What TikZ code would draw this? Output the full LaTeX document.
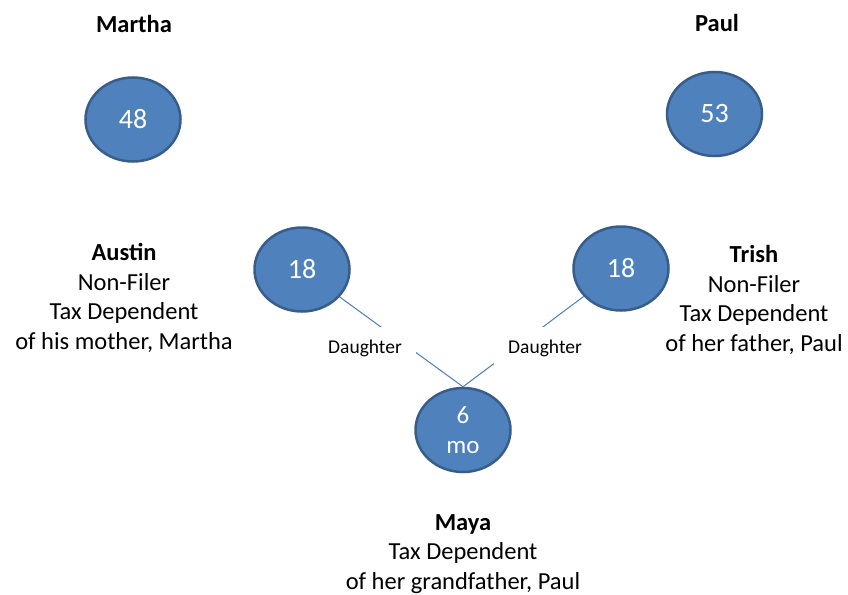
\documentclass[tikz,border=0pt]{standalone}
\usepackage{fontspec}
\setmainfont{Carlito}
\usetikzlibrary{shapes.geometric}
\definecolor{nodefill}{HTML}{4F81BD}
\definecolor{nodeline}{HTML}{385D8A}
\definecolor{linkcol}{HTML}{4A7EBB}
\begin{document}
\begin{tikzpicture}[x=1pt,y=-1pt,
  person/.style={ellipse, fill=nodefill, draw=nodeline, line width=2.5pt,
    minimum width=95pt, minimum height=84pt, inner sep=0pt, text=white,
    font=\fontsize{28}{30}\selectfont},
  pname/.style={font=\fontsize{24.5}{29.5}\selectfont\bfseries, inner sep=0pt, anchor=base},
  info/.style={font=\fontsize{24.5}{29.5}\selectfont, align=center, inner sep=0pt, anchor=base},
  link/.style={draw=linkcol, line width=1pt},
  rel/.style={fill=white, font=\fontsize{19.5}{22}\selectfont, inner xsep=14pt, inner ysep=12pt, anchor=base}]
\useasboundingbox (0,0) rectangle (848,594);

\node[person] (martha) at (133,119.5) {48};
\node[person] (paul) at (714.5,114) {53};
\node[person] (austin) at (302,269.5) {18};
\node[person] (trish) at (621,268.5) {18};
\node[person, font=\fontsize{25}{30}\selectfont, align=center] (maya) at (463,430) {6\\mo};

\node[pname] (marthaname) at (134,33) {Martha};
\node[pname] (paulname) at (717,32) {Paul};

\node[info] (austininfo) at (124,349) {{\bfseries Austin}\\Non-Filer\\Tax Dependent\\of his mother, Martha};
\node[info] (trishinfo) at (754,351) {{\bfseries Trish}\\Non-Filer\\Tax Dependent\\of her father, Paul};
\node[info] (mayainfo) at (463,589) {{\bfseries Maya}\\Tax Dependent\\of her grandfather, Paul};

\draw[link] (austin) -- (maya.north);
\draw[link] (trish) -- (maya.north);

\node[rel] (reldl) at (365,353) {Daughter};
\node[rel] (reldr) at (545,353) {Daughter};
\end{tikzpicture}
\end{document}
